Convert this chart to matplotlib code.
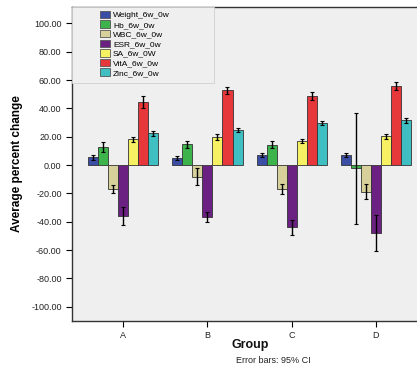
import matplotlib
matplotlib.use("Agg")
import matplotlib.pyplot as plt
from matplotlib.patches import Rectangle
import numpy as np

plt.rcParams['font.family'] = ['Liberation Sans', 'DejaVu Sans']

groups = ['A', 'B', 'C', 'D']
series = ['Weight_6w_0w', 'Hb_6w_0w', 'WBC_6w_0w', 'ESR_6w_0w', 'SA_6w_0W', 'VitA_6w_0w', 'Zinc_6w_0w']
colors = ['#3a4ea6', '#3cb44b', '#d7d09a', '#6b2182', '#f6f163', '#e6373b', '#3fbfc2']

# mean percent change per series, one value per group (A, B, C, D)
weight = [5.4, 5.2, 7.1, 7.1]
hb = [12.9, 14.6, 14.3, -2.4]
wbc = [-16.7, -8.2, -17.2, -18.8]
esr = [-35.8, -36.5, -44.0, -48.2]
sa = [18.1, 19.8, 16.9, 20.2]
vita = [44.5, 52.9, 48.9, 55.8]
zinc = [22.3, 24.7, 29.6, 31.5]

# 95% CI half widths
weight_ci = [1.5, 1.5, 1.2, 1.2]
hb_ci = [3.4, 2.6, 2.5, 39.4]
wbc_ci = [2.8, 5.9, 3.5, 5.4]
esr_ci = [6.2, 3.5, 5.3, 12.7]
sa_ci = [2.0, 2.0, 1.5, 2.0]
vita_ci = [4.0, 2.4, 3.0, 2.8]
zinc_ci = [1.5, 1.5, 1.2, 1.5]

means = [weight, hb, wbc, esr, sa, vita, zinc]
cis = [weight_ci, hb_ci, wbc_ci, esr_ci, sa_ci, vita_ci, zinc_ci]

fig = plt.figure(figsize=(4.17, 3.71), dpi=100)
ax = fig.add_axes([0.1727, 0.1348, 0.83, 0.8463])
ax.set_facecolor('#efefef')

x = np.arange(len(groups))
width = 0.119
for i, (name, m, ci, c) in enumerate(zip(series, means, cis, colors)):
    pos = x + (i - 3) * width
    ax.bar(pos, m, width, color=c, edgecolor='#333333', linewidth=0.6, label=name, zorder=2)
    ax.errorbar(pos, m, yerr=ci, fmt='none', ecolor='black', elinewidth=1.0,
                capsize=1.5, capthick=0.8, zorder=3)

ax.set_xlim(-0.607, 3.5)
ax.set_ylim(-110.1, 111.6)
ax.set_yticks(np.arange(-100, 101, 20))
ax.set_yticklabels(['%.2f' % v for v in np.arange(-100, 101, 20)], fontsize=6.5, color='#222222')
ax.set_xticks(x)
ax.set_xticklabels(groups, fontsize=6.5, color='#222222')
ax.tick_params(direction='out', length=4, width=0.8)

for s in ['left', 'bottom', 'top']:
    ax.spines[s].set_color('#333333')
    ax.spines[s].set_linewidth(1.0)
ax.spines['right'].set_visible(False)

ax.set_ylabel('Average percent change', fontsize=8.5, fontweight='bold', labelpad=6)
fig.text(0.6, 0.07, 'Group', fontsize=9, fontweight='bold', ha='center', va='center', color='#111111')
fig.text(0.565, 0.027, 'Error bars: 95% CI', fontsize=6.5, ha='left', va='center', color='#222222')

# legend frame sits flush with the top-left corner of the plot area
ax.add_patch(Rectangle((0, 0.758), 0.4116, 0.242, transform=ax.transAxes,
                       facecolor='#efefef', edgecolor='#cfcfcf', linewidth=0.6, zorder=4))
leg = ax.legend(loc='upper left', bbox_to_anchor=(0.082, 0.988), fontsize=6, frameon=False,
                borderaxespad=0, borderpad=0, handlelength=1.1, handleheight=1.0,
                labelspacing=0.12, handletextpad=0.4)
leg.set_zorder(5)
for h in leg.legend_handles:
    h.set_edgecolor('#555555')
    h.set_linewidth(0.6)

fig.savefig('out.png', dpi=100)
